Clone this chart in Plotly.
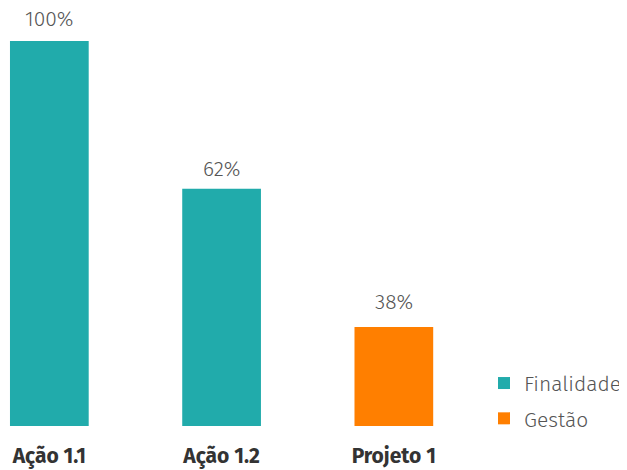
import plotly.graph_objects as go

categories = ["Ação 1.1", "Ação 1.2", "Projeto 1"]
finalidade_cats = ["Ação 1.1", "Ação 1.2"]
finalidade_vals = [100, 61.6]
finalidade_text = ["100%", "62%"]
gestao_cats = ["Projeto 1"]
gestao_vals = [25.7]
gestao_text = ["38%"]

TEAL = "#21ABAB"
ORANGE = "#FF7F00"
FONT = "Fira Sans, Open Sans, sans-serif"
# gap (px) between bar top and its value label
LABEL_SHIFT = {"Ação 1.1": 7, "Ação 1.2": 5, "Projeto 1": 10}

fig = go.Figure()
fig.add_trace(
    go.Bar(
        x=finalidade_cats,
        y=finalidade_vals,
        name="Finalidade",
        marker_color=TEAL,
        legendgroup="f",
    )
)
fig.add_trace(
    go.Bar(
        x=gestao_cats,
        y=gestao_vals,
        name="Gestão",
        marker_color=ORANGE,
        legendgroup="g",
    )
)
fig.update_traces(width=0.457, marker_line_width=0, hoverinfo="skip")

# value labels above the bars
for cats, vals, texts in [
    (finalidade_cats, finalidade_vals, finalidade_text),
    (gestao_cats, gestao_vals, gestao_text),
]:
    for c, v, t in zip(cats, vals, texts):
        fig.add_annotation(
            x=c,
            y=v,
            text=t,
            showarrow=False,
            yanchor="bottom",
            yshift=LABEL_SHIFT[c],
            font=dict(family=FONT, size=21, color="#555555", weight=300),
        )

fig.update_layout(
    width=619,
    height=462,
    barmode="overlay",
    plot_bgcolor="white",
    paper_bgcolor="white",
    margin=dict(t=0, l=0, r=139, b=44),
    font=dict(family=FONT),
    legend=dict(
        x=0.996,
        y=0.151,
        xanchor="left",
        yanchor="top",
        font=dict(family=FONT, size=21, color="#555555", weight=300),
        traceorder="grouped",
        tracegroupgap=5,
        bgcolor="rgba(0,0,0,0)",
    ),
    xaxis=dict(
        categoryorder="array",
        categoryarray=categories,
        range=[-0.240, 2.535],
        showgrid=False,
        zeroline=False,
        showline=False,
        ticks="",
        ticklabelstandoff=15,
        tickfont=dict(family=FONT, size=21, color="#333333", weight="bold"),
    ),
    yaxis=dict(
        range=[0, 108.57],
        visible=False,
        showgrid=False,
        zeroline=False,
    ),
)

fig.write_html("out.html")
